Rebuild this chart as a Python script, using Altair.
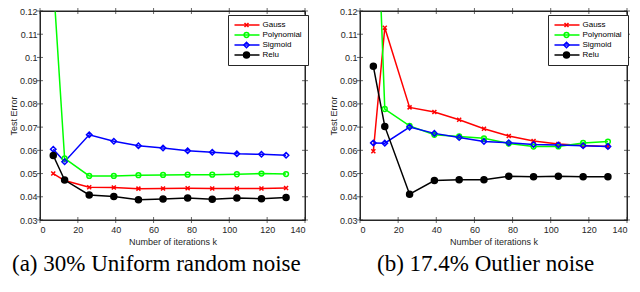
import altair as alt
import pandas as pd

k = [7, 13, 26, 39, 52, 65, 78, 91, 104, 117, 130]
series_names = ["Gauss", "Polynomial", "Sigmoid", "Relu"]
series_colors = ["#FF0000", "#00FF00", "#0000FF", "#000000"]

a_gauss = [0.0500, 0.0470, 0.0441, 0.0440, 0.0435, 0.0436, 0.0437, 0.0436, 0.0436, 0.0436, 0.0438]
a_poly = [0.133, 0.0565, 0.0490, 0.0490, 0.0493, 0.0494, 0.0495, 0.0495, 0.0497, 0.0500, 0.0498]
a_sigm = [0.0605, 0.0551, 0.0667, 0.0639, 0.0620, 0.0610, 0.0598, 0.0592, 0.0585, 0.0583, 0.0579]
a_relu = [0.0578, 0.0472, 0.0408, 0.0401, 0.0387, 0.0390, 0.0395, 0.0389, 0.0395, 0.0392, 0.0397]

b_gauss = [0.0596, 0.1128, 0.0785, 0.0765, 0.0732, 0.0693, 0.0662, 0.0640, 0.0627, 0.0621, 0.0617]
b_poly = [0.21, 0.0778, 0.0705, 0.0667, 0.0660, 0.0652, 0.0629, 0.0616, 0.0617, 0.0632, 0.0638]
b_sigm = [0.0632, 0.0631, 0.0700, 0.0673, 0.0655, 0.0638, 0.0633, 0.0625, 0.0623, 0.0620, 0.0617]
b_relu = [0.0962, 0.0703, 0.0411, 0.0470, 0.0473, 0.0473, 0.0488, 0.0486, 0.0488, 0.0486, 0.0486]

x_ticks = [0, 20, 40, 60, 80, 100, 120, 140]
y_ticks = [0.03, 0.04, 0.05, 0.06, 0.07, 0.08, 0.09, 0.10, 0.11, 0.12]

caption_a = "(a) 30% Uniform random noise"
caption_b = "(b) 17.4% Outlier noise"

AX = "#262626"
SERIF = "Times New Roman, Liberation Serif, serif"
SANS = "Arial, Liberation Sans, sans-serif"

GAUSS_PT = "M-1,-1L1,1M-1,1L1,-1"
PT_SHAPES = [GAUSS_PT, "circle", "diamond", "circle"]
PT_FILLS = ["transparent", "transparent", "transparent", "#000000"]
PT_SIZES = [16, 36, 45, 16]
H = 209
LEG_X = 188
LEG_Y = 4


def panel(vals, caption, width, title_dx):
    rows = []
    for name, v in zip(series_names, vals):
        for kk, vv in zip(k, v):
            rows.append({"role": "series", "k": kk, "err": vv, "kernel": name, "marker": name + " "})
    for t in x_ticks:
        rows.append({"role": "xtick", "k": t})
    for t in y_ticks:
        rows.append({"role": "ytick", "err": t})
    rows.append({"role": "frame", "k": x_ticks[0], "k2": x_ticks[-1], "err": y_ticks[0], "err2": y_ticks[-1]})
    df = pd.DataFrame(rows)
    marker_names = [n + " " for n in series_names]
    xs = alt.Scale(domain=[0, 140], nice=False)
    ys = alt.Scale(domain=[0.03, 0.12], nice=False)
    x = alt.X("k:Q", scale=xs, axis=alt.Axis(values=x_ticks, title="Number of iterations k",
                                             grid=False, ticks=False, labelPadding=5, titlePadding=3))
    y = alt.Y("err:Q", scale=ys, axis=alt.Axis(values=y_ticks, title="Test Error", format=".2~f",
                                               grid=False, ticks=False, labelPadding=3, titlePadding=1))
    base = alt.Chart(df)

    leg1 = alt.Legend(
        title=None, orient="none", legendX=LEG_X, legendY=LEG_Y,
        symbolType="stroke", symbolSize=625, symbolStrokeWidth=1.5, clipHeight=9, rowPadding=1,
        labelFontSize=8, labelFont=SANS, labelColor="#000000", labelOffset=2,
        padding=5.5, strokeColor=AX, fillColor="#FFFFFF", zindex=1,
    )
    line = base.transform_filter("datum.role === 'series'").mark_line(strokeWidth=1.5, clip=True).encode(
        x=x, y=y,
        color=alt.Color("kernel:N", scale=alt.Scale(domain=series_names, range=series_colors), legend=leg1),
        order="k:Q",
    )

    leg2 = alt.Legend(
        title=None, orient="none", legendX=LEG_X + 9, legendY=LEG_Y,
        symbolStrokeWidth=1.5, clipHeight=9, rowPadding=1,
        labelFontSize=8, labelExpr="''", labelOffset=0,
        padding=5.5, strokeColor="transparent", fillColor="transparent", zindex=2,
    )
    pts = base.transform_filter("datum.role === 'series'").mark_point(
        strokeWidth=1.5, clip=True, opacity=1
    ).encode(
        x=x, y=y,
        stroke=alt.Stroke("marker:N", scale=alt.Scale(domain=marker_names, range=series_colors), legend=leg2),
        shape=alt.Shape("marker:N", scale=alt.Scale(domain=marker_names, range=PT_SHAPES), legend=leg2),
        fill=alt.Fill("marker:N", scale=alt.Scale(domain=marker_names, range=PT_FILLS), legend=leg2),
        size=alt.Size("marker:N", scale=alt.Scale(domain=marker_names, range=PT_SIZES), legend=leg2),
    )

    frame = base.transform_filter("datum.role === 'frame'").mark_rect(
        stroke=AX, strokeWidth=1, fillOpacity=0, fill="#FFFFFF"
    ).encode(x=x, x2="k2:Q", y=y, y2="err2:Q")
    yl = base.transform_filter("datum.role === 'ytick'").mark_tick(
        color=AX, thickness=1, size=6, orient="horizontal").encode(y=y, x=alt.value(0))
    yr = base.transform_filter("datum.role === 'ytick'").mark_tick(
        color=AX, thickness=1, size=6, orient="horizontal").encode(y=y, x=alt.value(width))
    xb = base.transform_filter("datum.role === 'xtick'").mark_tick(
        color=AX, thickness=1, size=6, orient="vertical").encode(x=x, y=alt.value(H))
    xtop = base.transform_filter("datum.role === 'xtick'").mark_tick(
        color=AX, thickness=1, size=6, orient="vertical").encode(x=x, y=alt.value(0))

    return alt.layer(line, pts, frame, yl, yr, xb, xtop).properties(
        width=width, height=H,
        title=alt.Title(caption, orient="bottom", anchor="start", frame="group", dx=title_dx, offset=7,
                        font=SERIF, fontSize=23, fontWeight="normal", color="#000000"),
    )


left = panel([a_gauss, a_poly, a_sigm, a_relu], caption_a, 265, -28)
right = panel([b_gauss, b_poly, b_sigm, b_relu], caption_b, 267, 17)

chart = alt.hconcat(left, right, spacing=55, bounds="flush").resolve_scale(
    color="independent", shape="independent", size="independent", stroke="independent", fill="independent"
).resolve_legend(
    color="independent", shape="independent", size="independent", stroke="independent", fill="independent"
).properties(
    padding={"left": 0, "top": -2, "right": 0, "bottom": 0}
).configure_view(stroke=AX, strokeWidth=1).configure_axis(
    domainColor=AX, labelColor=AX, titleColor=AX, labelFont=SANS, titleFont=SANS,
    labelFontSize=9, titleFontSize=9, titleFontWeight="normal", domainWidth=1
)

chart.save("out.html", embed_options={"renderer": "svg", "actions": False})
